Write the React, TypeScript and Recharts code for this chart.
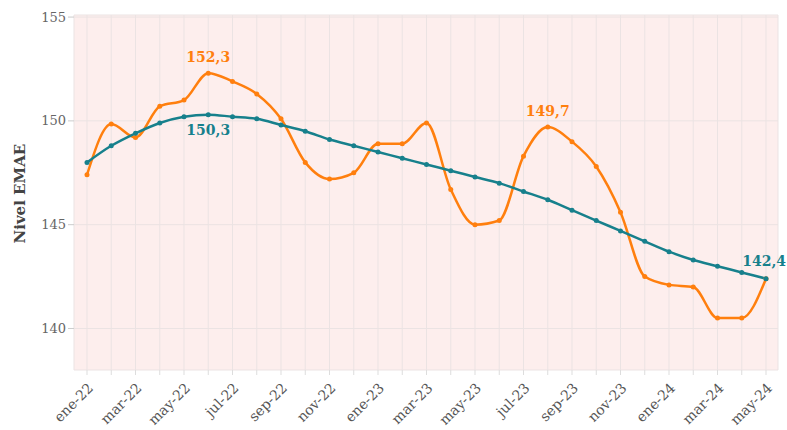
import React from "react";
import { LineChart, Line, XAxis, YAxis, CartesianGrid, LabelList } from "recharts";

const months = [
  "ene-22","feb-22","mar-22","abr-22","may-22","jun-22","jul-22","ago-22","sep-22","oct-22","nov-22","dic-22",
  "ene-23","feb-23","mar-23","abr-23","may-23","jun-23","jul-23","ago-23","sep-23","oct-23","nov-23","dic-23",
  "ene-24","feb-24","mar-24","abr-24","may-24",
];
const desest = [
  147.4,149.85,149.2,150.7,151.0,152.3,151.9,151.3,150.1,148.0,147.2,147.5,
  148.9,148.9,149.9,146.7,145.0,145.2,148.3,149.7,149.0,147.8,145.6,142.5,
  142.1,142.0,140.5,140.5,142.4,
];
const tendencia = [
  148.0,148.8,149.4,149.9,150.2,150.3,150.2,150.1,149.8,149.5,149.1,148.8,
  148.5,148.2,147.9,147.6,147.3,147.0,146.6,146.2,145.7,145.2,144.7,144.2,
  143.7,143.3,143.0,142.7,142.4,
];
const yTicks = [140, 145, 150, 155];
const desestLabels: Record<number, string> = { 5: "152,3", 19: "149,7" };
const tendLabels: Record<number, string> = { 5: "150,3", 28: "142,4" };

const data = months.map((m, i) => ({ m, desest: desest[i], tendencia: tendencia[i] }));

const ORANGE = "#ff7f0e";
const TEAL = "#17808c";
const FONT = "'DejaVu Serif', serif";

const XTick = (props: any) => {
  const { x, y, payload, index } = props;
  if (index % 2 !== 0) return null;
  const px = x + 7;
  const py = y + 12;
  return (
    <text x={px} y={py} textAnchor="end" fontSize={14} fill="#555" fontFamily={FONT}
      transform={`rotate(-45, ${px}, ${py})`}>
      {payload.value}
    </text>
  );
};

const makeLabel = (labels: Record<number, string>, color: string, mode: "orange" | "teal") => (props: any) => {
  const { x, y, index } = props;
  const t = labels[index];
  if (!t) return null;
  let tx = x, ty = y, anchor: "middle" | "start" | "end" = "middle";
  if (mode === "orange") {
    ty = y - 11;
  } else if (index === 28) {
    tx = x + 20; ty = y - 13; anchor = "end";
  } else {
    ty = y + 20;
  }
  return (
    <text x={tx} y={ty} textAnchor={anchor} fontSize={14} fontWeight="bold" fill={color} fontFamily={FONT}>
      {t}
    </text>
  );
};

export default function App() {
  return (
    <div style={{ position: "absolute", left: 0, top: 0 }}>
      <LineChart width={787} height={430} data={data} margin={{ top: 15, right: 9, bottom: 0, left: 0 }}>
        <CartesianGrid fill="#fdeeed" stroke="#ebe3e3" strokeWidth={1} vertical horizontal />
        <XAxis dataKey="m" interval={0} tick={<XTick />} tickLine={{ stroke: "#ddd" }} tickSize={5}
          axisLine={false} height={60} padding={{ left: 13, right: 12 }} />
        <YAxis domain={[138, 155.1]} ticks={yTicks} width={74} axisLine={false}
          tickLine={{ stroke: "#ccc" }} tickSize={6}
          tick={{ fontSize: 13, fill: "#666", fontFamily: FONT }}
          label={{ value: "Nivel EMAE", angle: -90, position: "insideLeft", dx: 15, dy: 51,
            style: { fontSize: 15, fontWeight: "bold", fill: "#444", fontFamily: FONT } }} />
        <Line dataKey="desest" type="monotone" stroke={ORANGE} strokeWidth={2.5}
          dot={{ r: 2.5, fill: ORANGE, stroke: ORANGE, strokeWidth: 0 }} isAnimationActive={false}>
          <LabelList dataKey="desest" content={makeLabel(desestLabels, ORANGE, "orange")} />
        </Line>
        <Line dataKey="tendencia" type="monotone" stroke={TEAL} strokeWidth={2.5}
          dot={{ r: 2.5, fill: TEAL, stroke: TEAL, strokeWidth: 0 }} isAnimationActive={false}>
          <LabelList dataKey="tendencia" content={makeLabel(tendLabels, TEAL, "teal")} />
        </Line>
      </LineChart>
    </div>
  );
}
